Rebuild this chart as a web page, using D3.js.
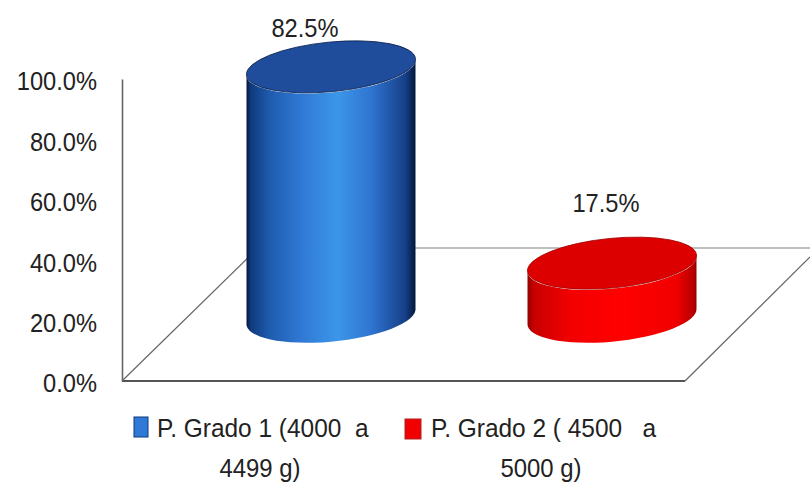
<!DOCTYPE html>
<html>
<head>
<meta charset="utf-8">
<script src="https://cdn.jsdelivr.net/npm/d3@7"></script>
<style>
  html, body { margin: 0; background: #fff; }
  text { font-family: "Liberation Sans", sans-serif; fill: #222; }
</style>
</head>
<body>
<div id="chart"></div>
<script>
var categories = ["P. Grado 1", "P. Grado 2"];
var percents = [82.5, 17.5];
var yTicks = [0, 20, 40, 60, 80, 100];
var legendLines = [
    ["P. Grado 1 (4000\u00a0\u00a0a", "4499 g)"],
    ["P. Grado 2 (\u00a04500\u00a0\u00a0\u00a0a", "5000 g)"]
];

var width = 810, height = 485;
var svg = d3.select("#chart").append("svg")
    .attr("width", width)
    .attr("height", height)
    .style("display", "block");

var y = d3.scaleLinear().domain([0, 100]).range([381, 79]);
var x = d3.scaleBand().domain(categories).range([190.5, 752.5]).paddingInner(0.4).paddingOuter(0.2);
var rx = 84.5;

// squeeze text horizontally, the font here is wider than the chart's
function squeeze(sel, factor) {
    sel.each(function() {
        this.setAttribute("textLength", this.getComputedTextLength() * factor);
        this.setAttribute("lengthAdjust", "spacingAndGlyphs");
    });
}

// gradients for the cylinder sides
var defs = svg.append("defs");
function sideGradient(id, stops) {
    var g = defs.append("linearGradient").attr("id", id);
    stops.forEach(function(s) {
        g.append("stop").attr("offset", s[0]).attr("stop-color", s[1]);
    });
}
sideGradient("blueSide", [[0, "#04173a"], [0.025, "#0f3a7c"], [0.14, "#1f5cb0"], [0.32, "#2f78d4"], [0.54, "#3c96e8"], [0.74, "#2f74d0"], [0.94, "#163f88"], [1, "#04173a"]]);
sideGradient("redSide", [[0, "#960000"], [0.04, "#c80000"], [0.25, "#f20000"], [0.55, "#ff0000"], [0.88, "#f00000"], [0.98, "#b80000"], [1, "#900000"]]);

// floor of the 3d plot
var floor = svg.append("g").attr("fill", "none");
floor.append("path").attr("d", "M122,381L258,248").attr("stroke", "#666").attr("stroke-width", 1.2);
floor.append("path").attr("d", "M685,381L810,257").attr("stroke", "#666").attr("stroke-width", 1.2);
floor.append("path").attr("d", "M258,248H810").attr("stroke", "#aaa").attr("stroke-width", 1.6);
floor.append("path").attr("d", "M122,381H685").attr("stroke", "#555").attr("stroke-width", 2);

var axis = svg.append("g")
    .attr("transform", "translate(122,0)")
    .call(d3.axisLeft(y).tickValues(yTicks).tickSize(0).tickPadding(25)
        .tickFormat(function(d) { return d.toFixed(1) + "%"; }));
axis.select(".domain").attr("stroke", "#666").attr("stroke-width", 1.6);
axis.selectAll("text")
    .attr("dy", "0.42em")
    .style("font-size", "26px")
    .style("font-family", '"Liberation Sans", sans-serif')
    .style("fill", "#222")
    .call(squeeze, 0.91);

// tilted ellipse numbers
var ry = 24.8, tilt = -5.55, edgeDrop = 7.5, baseY = 316;
var colors = [
    { side: "url(#blueSide)", top: "#1f4d9c", edge: "#0a1f4a" },
    { side: "url(#redSide)", top: "#dc0000", edge: "#a00000" }
];
var labelShift = [[-26, -30], [-6, -51]];

var bars = svg.selectAll(".cyl").data(percents).enter().append("g").attr("class", "cyl");

bars.append("path")
    .attr("fill", function(d, i) { return colors[i].side; })
    .attr("d", function(d, i) {
        var cx = x(categories[i]) + x.bandwidth() / 2;
        var top = baseY - (y(0) - y(d));
        var arc = "A" + 84.9 + "," + ry + " " + tilt + " 1 0 ";
        return "M" + (cx - rx) + "," + (top + edgeDrop) +
            "L" + (cx - rx) + "," + (baseY + edgeDrop) +
            arc + (cx + rx) + "," + (baseY - edgeDrop) +
            "L" + (cx + rx) + "," + (top - edgeDrop) +
            "A" + 84.9 + "," + ry + " " + tilt + " 1 1 " + (cx - rx) + "," + (top + edgeDrop) + "Z";
    });

bars.append("ellipse")
    .attr("rx", 84.9)
    .attr("ry", ry)
    .attr("fill", function(d, i) { return colors[i].top; })
    .attr("stroke", function(d, i) { return colors[i].edge; })
    .attr("stroke-width", 0.8)
    .attr("transform", function(d, i) {
        var cx = x(categories[i]) + x.bandwidth() / 2;
        return "translate(" + cx + "," + (baseY - (y(0) - y(d))) + ") rotate(" + tilt + ")";
    });

bars.append("text")
    .attr("text-anchor", "middle")
    .style("font-size", "26px")
    .attr("x", function(d, i) { return x(categories[i]) + x.bandwidth() / 2 + labelShift[i][0]; })
    .attr("y", function(d, i) { return baseY - (y(0) - y(d)) + labelShift[i][1]; })
    .text(function(d) { return d.toFixed(1) + "%"; })
    .call(squeeze, 0.91);

// legend, two wrapped entries
var swatches = [{ x: 134, y: 417, w: 14, h: 20 }, { x: 405, y: 419, w: 16, h: 20 }];
var legendX = [[157, 260], [431, 541]];
var legend = svg.selectAll(".leg").data(categories).enter().append("g").attr("class", "leg");
legend.append("rect")
    .attr("x", function(d, i) { return swatches[i].x; })
    .attr("y", function(d, i) { return swatches[i].y; })
    .attr("width", function(d, i) { return swatches[i].w; })
    .attr("height", function(d, i) { return swatches[i].h; })
    .attr("fill", function(d, i) { return i ? "#f00000" : "#2f7ad6"; })
    .attr("stroke", function(d, i) { return i ? "#b02020" : "#0f3a7c"; })
    .attr("stroke-width", 1);
legend.append("text")
    .attr("x", function(d, i) { return legendX[i][0]; })
    .attr("y", 437)
    .style("font-size", "26px")
    .text(function(d, i) { return legendLines[i][0]; })
    .call(squeeze, 0.94);
legend.append("text")
    .attr("x", function(d, i) { return legendX[i][1]; })
    .attr("y", 477)
    .attr("text-anchor", "middle")
    .style("font-size", "26px")
    .text(function(d, i) { return legendLines[i][1]; })
    .call(squeeze, 0.92);
</script>
</body>
</html>
